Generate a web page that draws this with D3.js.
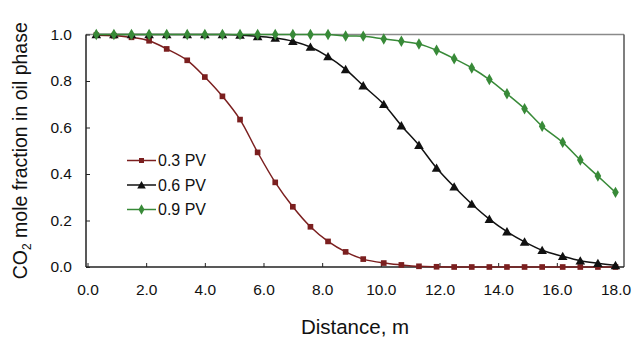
<!DOCTYPE html>
<html><head><meta charset="utf-8">
<script src="https://cdn.jsdelivr.net/npm/d3@7"></script>
<style>body{margin:0;background:#fff}svg{display:block}text{font-family:"Liberation Sans",Arial,sans-serif;fill:#111}</style>
</head><body><svg id="c" width="634" height="338"></svg>
<script>
const distance = [0.3,0.9,1.5,2.1,2.7,3.4,4.0,4.6,5.2,5.8,6.4,7.0,7.6,8.2,8.8,9.4,10.1,10.7,11.3,11.9,12.5,13.1,13.7,14.3,14.9,15.5,16.2,16.8,17.4,18.0];
const pv03 = [0.997,0.995,0.988,0.973,0.938,0.889,0.817,0.734,0.634,0.493,0.364,0.259,0.173,0.110,0.065,0.034,0.017,0.009,0.003,0.001,0,0,0,0,0,0,0,0,0,0];
const pv06 = [1,1,1,1,1,1,1,1,0.998,0.992,0.985,0.971,0.946,0.905,0.850,0.780,0.700,0.608,0.524,0.426,0.345,0.271,0.206,0.152,0.108,0.072,0.046,0.027,0.016,0.007];
const pv09 = [1,1,1,1,1,1,1,1,1,1,1,1,1,1,0.994,0.993,0.981,0.971,0.959,0.932,0.896,0.856,0.806,0.745,0.681,0.605,0.536,0.460,0.391,0.321];
const seriesNames = ["0.3 PV","0.6 PV","0.9 PV"];
const xTicks = [0,2,4,6,8,10,12,14,16,18];
const yTicks = [0,0.2,0.4,0.6,0.8,1.0];

const series = [
  {name: seriesNames[0], values: pv03, color: "#7b1f1f", symbol: d3.symbolSquare, size: 32},
  {name: seriesNames[1], values: pv06, color: "#111111", symbol: d3.symbolTriangle, size: 40},
  {name: seriesNames[2], values: pv09, color: "#388a38", symbol: d3.symbolDiamond, size: 38}
];

const svg = d3.select("#c");
const L = 86, R = 624, T = 34.5, B = 267;
const x = d3.scaleLinear().domain([0, 18.29]).range([L + 1.5, R]);
const y = d3.scaleLinear().domain([0, 1]).range([B, T]);

// frame top/right
svg.append("line").attr("x1", L).attr("x2", R).attr("y1", T).attr("y2", T).attr("stroke", "#8a8a8a").attr("stroke-width", 1.5);
svg.append("line").attr("x1", R).attr("x2", R).attr("y1", T).attr("y2", B).attr("stroke", "#555").attr("stroke-width", 1.5);

const xAxis = svg.append("g").attr("transform", `translate(0,${B})`)
  .call(d3.axisBottom(x).tickValues(xTicks).tickFormat(d3.format(".1f")).tickSizeInner(-4).tickSizeOuter(0).tickPadding(17));
const yAxis = svg.append("g").attr("transform", `translate(${L},0)`)
  .call(d3.axisLeft(y).tickValues(yTicks).tickFormat(d3.format(".1f")).tickSizeInner(-4).tickSizeOuter(0).tickPadding(14));
[xAxis, yAxis].forEach(g => {
  g.select(".domain").attr("stroke", "#222").attr("stroke-width", 1.5);
  g.selectAll(".tick line").attr("stroke", "#222");
  g.selectAll(".tick text").attr("font-size", 15.5).attr("font-family", '"Liberation Sans",Arial,sans-serif').attr("fill", "#111");
});
xAxis.select(".domain").attr("d", `M${L},0H${R}`);
yAxis.select(".domain").attr("d", `M0,${B}V${T}`);

const line = d3.line().x((d, i) => x(distance[i])).y(d => y(d)).curve(d3.curveCatmullRom.alpha(0.5));
series.forEach(s => {
  svg.append("path").attr("d", line(s.values)).attr("fill", "none").attr("stroke", s.color).attr("stroke-width", 1.5);
  svg.append("g").selectAll("path").data(s.values).join("path")
    .attr("transform", (d, i) => `translate(${x(distance[i])},${y(d) + (s.symbol === d3.symbolTriangle ? 1 : 0)})`)
    .attr("d", d3.symbol().type(s.symbol).size(s.size)).attr("fill", s.color);
});

// legend
const lg = svg.append("g");
series.forEach((s, i) => {
  const yy = 160.5 + i * 24.5;
  lg.append("line").attr("x1", 127).attr("x2", 156).attr("y1", yy).attr("y2", yy).attr("stroke", s.color).attr("stroke-width", 1.5);
  lg.append("path").attr("transform", `translate(141.5,${yy + (s.symbol === d3.symbolTriangle ? 1 : 0)})`).attr("d", d3.symbol().type(s.symbol).size(s.size * 0.8)).attr("fill", s.color);
  lg.append("text").attr("x", 158).attr("y", yy + 5.5).attr("font-size", 16).text(s.name);
});

// axis titles
svg.append("text").attr("x", (L + R) / 2).attr("y", 334).attr("text-anchor", "middle").attr("font-size", 20.5).text("Distance, m");
const yt = svg.append("text").attr("transform", `translate(27,${(T + B) / 2}) rotate(-90)`).attr("text-anchor", "middle").attr("font-size", 19.5);
yt.append("tspan").text("CO");
yt.append("tspan").attr("font-size", 12).attr("dy", 4).text("2");
yt.append("tspan").attr("dy", -4).text(" mole fraction in oil phase");
</script></body></html>
